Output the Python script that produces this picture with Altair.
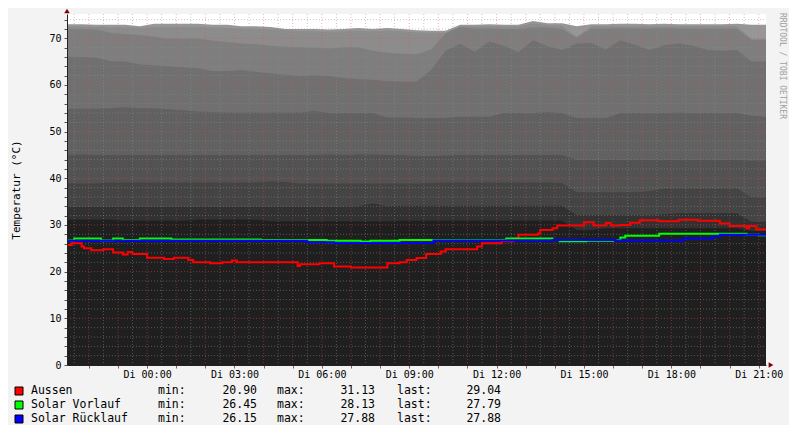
from __future__ import annotations

import altair as alt
import pandas as pd

MONO = "DejaVu Sans Mono"
PLOT_W, PLOT_H = 699, 351

DAY = {"Mo": "2013-07-22", "Di": "2013-07-23"}


def ts(label: str) -> pd.Timestamp:
    day, hm = label.split()
    return pd.Timestamp(f"{DAY[day]} {hm}")


START, END = "Mo 21:15", "Di 21:15"

# buffer tank layers (grey areas), one value every 30 minutes from START to END
TANK_1 = [73.0, 73.0, 72.9, 72.9, 72.9, 72.6, 73.1,
          73.1, 73.1, 73.1, 72.9, 72.9, 72.6, 72.6,
          72.4, 72.0, 72.0, 72.0, 71.9, 72.0, 72.2,
          72.0, 72.2, 72.0, 71.7, 71.6, 71.6, 72.9,
          72.9, 73.0, 72.9, 72.9, 73.7, 73.2, 73.2,
          72.6, 73.0, 73.0, 73.1, 73.1, 73.0, 73.1,
          73.0, 73.0, 73.0, 73.0, 73.1, 72.9, 72.9]
TANK_2 = [72.6, 72.5, 72.4, 72.3, 72.3, 72.2, 72.4,
          72.4, 72.4, 72.4, 72.3, 72.2, 72.1, 72.0,
          71.9, 71.7, 71.5, 71.5, 71.4, 71.5, 71.6,
          71.5, 71.6, 71.5, 71.3, 71.2, 71.2, 72.5,
          72.5, 72.6, 72.5, 72.5, 73.2, 72.8, 72.7,
          70.4, 72.6, 72.6, 72.6, 72.6, 72.6, 72.6,
          72.6, 72.6, 72.6, 72.6, 72.6, 69.9, 69.9]
TANK_3 = [72.1, 72.0, 71.9, 71.2, 70.9, 70.7, 70.3,
          69.9, 69.9, 69.9, 69.5, 69.2, 68.9, 68.7,
          68.4, 68.2, 68.1, 68.0, 67.8, 68.1, 68.1,
          67.3, 66.9, 66.7, 66.6, 67.6, 71.0, 72.4,
          72.1, 72.1, 72.0, 72.0, 72.3, 72.3, 72.0,
          70.1, 72.1, 72.1, 72.2, 72.1, 72.1, 72.2,
          72.1, 72.1, 72.1, 72.1, 72.1, 69.7, 69.7]
TANK_4 = [66.1, 66.0, 65.9, 65.1, 65.0, 64.4, 64.2,
          64.0, 63.8, 63.6, 63.0, 63.0, 63.2, 62.8,
          62.5, 62.2, 61.9, 62.1, 61.9, 61.5, 61.2,
          61.1, 60.8, 60.7, 60.7, 63.2, 67.3, 68.8,
          67.1, 69.3, 68.4, 67.0, 69.6, 68.3, 67.5,
          68.9, 69.0, 67.6, 69.6, 68.6, 67.5, 68.5,
          68.9, 68.4, 67.5, 67.3, 67.5, 65.0, 65.0]
TANK_5 = [54.9, 54.9, 54.9, 55.0, 55.2, 55.0, 55.0,
          54.8, 54.6, 54.3, 54.2, 54.1, 54.1, 54.1,
          54.1, 54.1, 54.1, 54.4, 54.0, 54.0, 54.0,
          54.0, 53.0, 53.0, 52.9, 52.9, 52.9, 53.2,
          53.2, 53.2, 54.0, 54.0, 54.0, 54.2, 54.0,
          52.9, 52.9, 52.9, 54.0, 54.0, 54.0, 54.0,
          54.1, 54.0, 54.0, 54.0, 54.0, 53.4, 53.2]
TANK_6 = [45.0, 45.1, 45.0, 45.0, 45.0, 45.0, 45.0,
          45.0, 45.0, 45.0, 45.0, 45.0, 45.0, 45.0,
          45.0, 45.0, 45.0, 45.0, 45.1, 45.0, 45.1,
          45.1, 45.0, 45.0, 44.8, 44.8, 44.9, 45.0,
          45.0, 45.0, 45.0, 45.0, 45.0, 45.0, 45.0,
          43.9, 43.9, 43.9, 43.9, 43.9, 43.9, 43.9,
          43.9, 43.9, 43.9, 43.9, 43.9, 43.8, 43.8]
TANK_7 = [38.9, 38.9, 38.9, 39.1, 39.1, 39.1, 39.1,
          39.1, 39.1, 39.1, 39.1, 39.1, 39.1, 39.1,
          39.3, 39.2, 38.9, 38.9, 38.9, 38.9, 38.9,
          38.9, 38.9, 38.9, 38.9, 39.0, 39.1, 39.1,
          39.1, 39.1, 39.1, 39.1, 39.1, 39.1, 39.0,
          37.0, 37.0, 37.0, 37.0, 37.0, 37.2, 37.8,
          37.8, 37.8, 37.8, 37.8, 37.8, 36.0, 36.0]
TANK_8 = [33.9, 33.9, 33.9, 33.9, 33.9, 33.9, 33.9,
          33.9, 33.9, 33.9, 33.9, 33.9, 33.9, 33.9,
          33.9, 33.9, 33.9, 33.9, 33.9, 33.9, 34.0,
          34.6, 34.0, 34.1, 34.1, 34.1, 34.1, 34.1,
          34.1, 34.1, 34.1, 34.1, 34.1, 34.1, 34.1,
          32.1, 32.1, 32.1, 32.1, 32.1, 32.1, 32.3,
          32.5, 32.5, 32.5, 32.5, 32.5, 30.7, 30.7]
TANK_9 = [31.1, 31.1, 31.1, 31.1, 30.9, 30.9, 30.9,
          30.9, 30.9, 31.1, 31.1, 31.1, 31.1, 31.1,
          30.8, 30.8, 30.8, 30.8, 30.8, 30.8, 30.8,
          30.8, 30.8, 30.9, 30.9, 30.9, 30.9, 30.9,
          30.9, 30.9, 30.9, 30.9, 30.9, 30.9, 30.9,
          28.9, 28.9, 29.3, 29.3, 29.3, 29.3, 29.3,
          29.3, 29.3, 29.3, 29.3, 29.3, 28.7, 28.7]
TANKS = [TANK_1, TANK_2, TANK_3, TANK_4, TANK_5, TANK_6, TANK_7, TANK_8, TANK_9]
TANK_COLORS = ["#979797", "#8c8c8c", "#7e7e7e", "#707070", "#616161",
               "#525252", "#444444", "#313131", "#1f1f1f"]

# sensor lines, (time, value) at each change
AUSSEN = [
    ("Mo 21:15", 25.7), ("Mo 21:25", 26.1), ("Mo 21:45", 25.4), ("Mo 21:50", 25.0),
    ("Mo 22:05", 24.6), ("Mo 22:30", 24.8), ("Mo 22:50", 24.1), ("Mo 23:10", 23.7),
    ("Mo 23:20", 24.2), ("Mo 23:30", 23.8), ("Di 00:00", 23.0), ("Di 00:35", 22.7),
    ("Di 00:55", 23.0), ("Di 01:25", 22.5), ("Di 01:35", 22.0), ("Di 02:10", 21.8),
    ("Di 02:35", 22.0), ("Di 02:55", 22.4), ("Di 03:05", 22.0), ("Di 05:10", 21.2),
    ("Di 05:15", 21.6), ("Di 05:55", 21.8), ("Di 06:25", 21.1), ("Di 07:00", 20.90),
    ("Di 08:15", 21.8), ("Di 08:40", 22.0), ("Di 08:55", 22.5), ("Di 09:15", 22.9),
    ("Di 09:35", 23.8), ("Di 10:05", 24.3), ("Di 10:15", 24.8), ("Di 11:20", 25.4),
    ("Di 11:30", 26.1), ("Di 12:10", 26.5), ("Di 12:35", 27.1), ("Di 12:45", 27.9),
    ("Di 13:25", 28.2), ("Di 13:30", 28.9), ("Di 13:55", 29.3), ("Di 14:05", 29.9),
    ("Di 15:00", 30.6), ("Di 15:20", 29.9), ("Di 15:45", 30.4), ("Di 15:55", 29.9),
    ("Di 16:15", 30.0), ("Di 16:35", 30.5), ("Di 16:55", 31.0), ("Di 17:35", 30.8),
    ("Di 18:15", 31.13), ("Di 18:55", 30.9), ("Di 19:40", 30.3), ("Di 20:00", 29.8),
    ("Di 20:35", 29.3), ("Di 20:40", 29.8), ("Di 20:55", 29.04), ("Di 21:15", 29.04),
]
SOLAR_VORLAUF = [
    ("Mo 21:15", 26.7), ("Mo 21:30", 27.1), ("Mo 22:25", 26.7), ("Mo 22:50", 27.1),
    ("Mo 23:10", 26.8), ("Mo 23:45", 27.1), ("Di 00:50", 26.9), ("Di 03:55", 26.8),
    ("Di 06:10", 26.6), ("Di 07:20", 26.45), ("Di 07:40", 26.6), ("Di 08:40", 26.8),
    ("Di 12:20", 27.1), ("Di 13:55", 26.8), ("Di 14:10", 26.5), ("Di 15:05", 26.6),
    ("Di 16:00", 26.8), ("Di 16:15", 27.3), ("Di 16:25", 27.7), ("Di 17:35", 28.13),
    ("Di 20:35", 27.9), ("Di 21:00", 27.79), ("Di 21:15", 27.79),
]
SOLAR_RUECKLAUF = [
    ("Mo 21:15", 26.6), ("Di 05:30", 26.3), ("Di 06:25", 26.15), ("Di 09:50", 26.7),
    ("Di 13:55", 26.8), ("Di 16:05", 26.7), ("Di 18:25", 27.1), ("Di 19:25", 27.6),
    ("Di 19:40", 27.88), ("Di 21:15", 27.88),
]
SERIES = [
    ("Aussen", "#ff0000", AUSSEN),
    ("Solar Vorlauf", "#00ff00", SOLAR_VORLAUF),
    ("Solar Rücklauf", "#0000ff", SOLAR_RUECKLAUF),
]

Y_MAX = 75.2


def dt(t: pd.Timestamp) -> alt.DateTime:
    return alt.DateTime(year=t.year, month=t.month, date=t.day, hours=t.hour, minutes=t.minute)


x_scale = alt.Scale(domain=[dt(ts(START)), dt(ts(END))])
y_scale = alt.Scale(domain=[0, Y_MAX], nice=False)

hours = pd.date_range(ts(START).ceil("h"), ts(END), freq="1h")
half_hours = hours - pd.Timedelta(minutes=30)

x_axis = alt.Axis(
    values=[dt(t) for t in hours],
    labelExpr="hours(datum.value) % 3 === 0 ? 'Di ' + timeFormat(datum.value, '%H:%M') : ''",
    grid=False, title=None, domainColor="#222222", tickColor="#b05050", tickSize=3,
    labelFont=MONO, labelFontSize=10, labelColor="#000000", labelPadding=1,
    labelAngle=0, labelFlush=False, labelOverlap=False, zindex=1,
)
y_axis = alt.Axis(
    values=list(range(0, 76, 2)),
    labelExpr="datum.value % 10 === 0 ? datum.label : ''",
    grid=False, title="Temperatur (°C)", titleFont=MONO, titleFontSize=11,
    titleFontWeight="normal", titleColor="#000000", titleX=-51, titleY=PLOT_H / 2,
    titleAngle=270, titleAlign="center", titleBaseline="middle",
    domainColor="#222222", tickColor="#555555", tickSize=3, labelOverlap=False,
    labelFont=MONO, labelFontSize=10, labelColor="#000000", labelPadding=3, zindex=1,
)


def X(field: str) -> alt.X:
    return alt.X(field, scale=x_scale, axis=x_axis)


def Y(field: str) -> alt.Y:
    return alt.Y(field, scale=y_scale, axis=y_axis)


bg = pd.DataFrame({"time": pd.date_range(ts(START), ts(END), freq="30min")})
for i, vals in enumerate(TANKS):
    bg[f"tank{i + 1}"] = vals

layers = []
for i, color in enumerate(TANK_COLORS):
    layers.append(
        alt.Chart(bg).mark_area(color=color, opacity=1).encode(
            x=X("time:T"), y=Y(f"tank{i + 1}:Q")
        )
    )

# grid: grey dotted minor, red dotted major
minor_v = pd.DataFrame({"time": half_hours})
major_v = pd.DataFrame({"time": hours})
minor_h = pd.DataFrame({"v": [v for v in range(2, 76, 2) if v % 10]})
major_h = pd.DataFrame({"v": list(range(10, 71, 10))})
for df, color, op in [(minor_v, "#8f8f8f", 0.5), (major_v, "#de4f4f", 0.45)]:
    layers.append(
        alt.Chart(df).mark_rule(color=color, opacity=op, strokeDash=[1, 2], strokeWidth=1).encode(
            x=X("time:T"), y=alt.value(0), y2=alt.value(PLOT_H)
        )
    )
for df, color, op in [(minor_h, "#8f8f8f", 0.5), (major_h, "#de4f4f", 0.5)]:
    layers.append(
        alt.Chart(df).mark_rule(color=color, opacity=op, strokeDash=[1, 2], strokeWidth=1).encode(
            y=Y("v:Q"), x=alt.value(0), x2=alt.value(PLOT_W)
        )
    )

# sensor lines and the text legend below the plot
for row, (name, color, points) in enumerate(SERIES):
    df = pd.DataFrame(points, columns=["label", "value"])
    df["time"] = df["label"].map(ts)
    layers.append(
        alt.Chart(df).mark_line(color=color, strokeWidth=2, interpolate="step-after").encode(
            x=X("time:T"), y=Y("value:Q")
        )
    )
    stats = pd.DataFrame([{
        "name": name, "min": df["value"].min(), "max": df["value"].max(),
        "last": df["value"].iloc[-1],
    }])
    ly = 377 + 14 * row
    base = alt.Chart(stats)
    layers.append(base.mark_square(size=64, fill=color, stroke="#000000", strokeWidth=1, opacity=1)
                  .encode(x=alt.value(-48), y=alt.value(ly)))
    txt = dict(font=MONO, fontSize=11.5, baseline="middle", color="#000000")
    layers.append(base.mark_text(align="left", **txt).encode(
        x=alt.value(-36), y=alt.value(ly), text="name:N"))
    for lab, lx, field, vx in [("min:", 91, "min", 190), ("max:", 210, "max", 308),
                               ("last:", 330, "last", 434)]:
        layers.append(base.mark_text(align="left", text=lab, **txt).encode(
            x=alt.value(lx), y=alt.value(ly)))
        layers.append(base.mark_text(align="right", **txt).encode(
            x=alt.value(vx), y=alt.value(ly), text=alt.Text(f"{field}:Q", format=".2f")))

one = alt.Chart(pd.DataFrame({"k": [0]}))
layers.append(one.mark_point(shape="triangle-up", filled=True, color="#7f0000", size=30, opacity=1)
              .encode(x=alt.value(0), y=alt.value(-3)))
layers.append(one.mark_point(shape="triangle-right", filled=True, color="#7f0000", size=30, opacity=1)
              .encode(x=alt.value(704), y=alt.value(PLOT_H)))
layers.append(one.mark_text(text="RRDTOOL / TOBI OETIKER", angle=90, font=MONO, fontSize=8,
                            color="#a0a0a0", align="center", baseline="middle")
              .encode(x=alt.value(715), y=alt.value(52)))

chart = (
    alt.layer(*layers)
    .properties(
        width=PLOT_W, height=PLOT_H, background="#f3f3f3",
        autosize=alt.AutoSizeParams(type="none"),
        padding={"left": 59, "top": 6, "right": 23, "bottom": 60},
    )
    .configure_view(fill="#ffffff", stroke=None)
)

chart.save("out.html", embed_options={"renderer": "svg", "actions": False})
